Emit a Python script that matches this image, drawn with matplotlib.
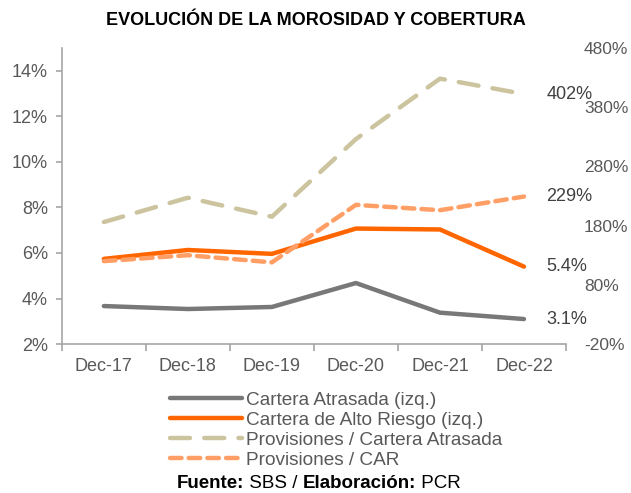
import matplotlib
matplotlib.use("Agg")
import matplotlib.pyplot as plt
import matplotlib.ticker as mticker
import numpy as np

plt.rcParams['font.family'] = ['Liberation Sans', 'DejaVu Sans']

# data
years = ["Dec-17", "Dec-18", "Dec-19", "Dec-20", "Dec-21", "Dec-22"]
cartera_atrasada = [3.67, 3.54, 3.63, 4.68, 3.38, 3.1]      # % (left)
cartera_alto_riesgo = [5.74, 6.13, 5.96, 7.07, 7.03, 5.4]   # % (left)
prov_ca = [186, 227, 195, 326, 428, 402]                    # % (right)
prov_car = [120, 130, 118, 215, 206, 229]                   # % (right)

GRAY = "#787878"
ORANGE = "#FF6600"
TAN = "#CCC49F"
LIGHT_ORANGE = "#FF9F66"
TXT = "#595959"
FS = 13

fig = plt.figure(figsize=(6.31, 4.93), dpi=100)
ax = fig.add_axes([0.098, 0.302, 0.799, 0.601])
ax2 = ax.twinx()

x = np.arange(len(years))
lw = 3.2
l1, = ax.plot(x, cartera_atrasada, color=GRAY, lw=lw, solid_capstyle='round')
l2, = ax.plot(x, cartera_alto_riesgo, color=ORANGE, lw=lw, solid_capstyle='round')
l3, = ax2.plot(x, prov_ca, color=TAN, lw=lw, dashes=(4.5, 3.2), dash_capstyle='round')
l4, = ax2.plot(x, prov_car, color=LIGHT_ORANGE, lw=lw, dashes=(2.6, 1.6), dash_capstyle='round')

ax.set_xlim(-0.5, 5.5)
ax.set_ylim(2, 15)
ax2.set_ylim(-20, 480)
ax.set_yticks(np.arange(2, 15, 2))
ax.yaxis.set_major_formatter(mticker.FuncFormatter(lambda v, p: f"{v:.0f}%"))
ax2.set_yticks(np.arange(-20, 481, 100))
ax2.yaxis.set_major_formatter(mticker.FuncFormatter(lambda v, p: f"{v:.0f}%"))

ax.set_xticks(x)
ax.set_xticklabels(years)
ax.set_xticks(np.arange(-0.5, 5.6, 1), minor=True)
ax.tick_params(axis='x', which='major', length=0, pad=10, labelsize=FS, labelcolor=TXT)
ax.tick_params(axis='x', which='minor', length=5, color="#A6A6A6", width=1.2)
ax.tick_params(axis='y', length=4, color="#A6A6A6", width=1.2, pad=6, labelsize=FS, labelcolor=TXT)
ax2.tick_params(axis='y', length=0, pad=13, labelsize=12.5, labelcolor=TXT)

for s in ['top', 'right']:
    ax.spines[s].set_visible(False)
for s in ['left', 'bottom']:
    ax.spines[s].set_color("#A6A6A6")
    ax.spines[s].set_linewidth(1.2)
for s in ax2.spines.values():
    s.set_visible(False)

# end labels
for a, series in ((ax, cartera_atrasada), (ax, cartera_alto_riesgo), (ax2, prov_ca), (ax2, prov_car)):
    v = series[-1]
    lab = f"{v}%" if a is ax else f"{v:.0f}%"
    a.annotate(lab, (x[-1], v), xytext=(16, 0), textcoords='offset points',
               va='center', ha='left', fontsize=FS, color="#404040")

fig.text(0.5, 0.958, "EVOLUCIÓN DE LA MOROSIDAD Y COBERTURA", ha='center', va='center',
         fontsize=13, fontweight='bold', color="black")

fig.legend([l1, l2, l3, l4],
           ["Cartera Atrasada (izq.)", "Cartera de Alto Riesgo (izq.)",
            "Provisiones / Cartera Atrasada", "Provisiones / CAR"],
           loc='upper center', bbox_to_anchor=(0.533, 0.225), frameon=False,
           fontsize=13.7, handlelength=3.8, labelspacing=0.14, handletextpad=0.2,
           labelcolor=TXT, borderpad=0)

t1 = fig.text(0.28, 0.01, "Fuente:", fontsize=13.5, fontweight='bold', va='baseline')
t2 = fig.text(0, 0, " SBS / ", fontsize=13.5, va='baseline')
t3 = fig.text(0, 0, "Elaboración:", fontsize=13.5, fontweight='bold', va='baseline')
t4 = fig.text(0, 0, " PCR", fontsize=13.5, va='baseline')
fig.canvas.draw()
r = fig.canvas.get_renderer()
prev = t1
for t in (t2, t3, t4):
    bb = prev.get_window_extent(r)
    px, py = prev.get_position()
    t.set_position((bb.x1 / fig.bbox.width, py))
    prev = t

fig.savefig("out.png", dpi=100)
